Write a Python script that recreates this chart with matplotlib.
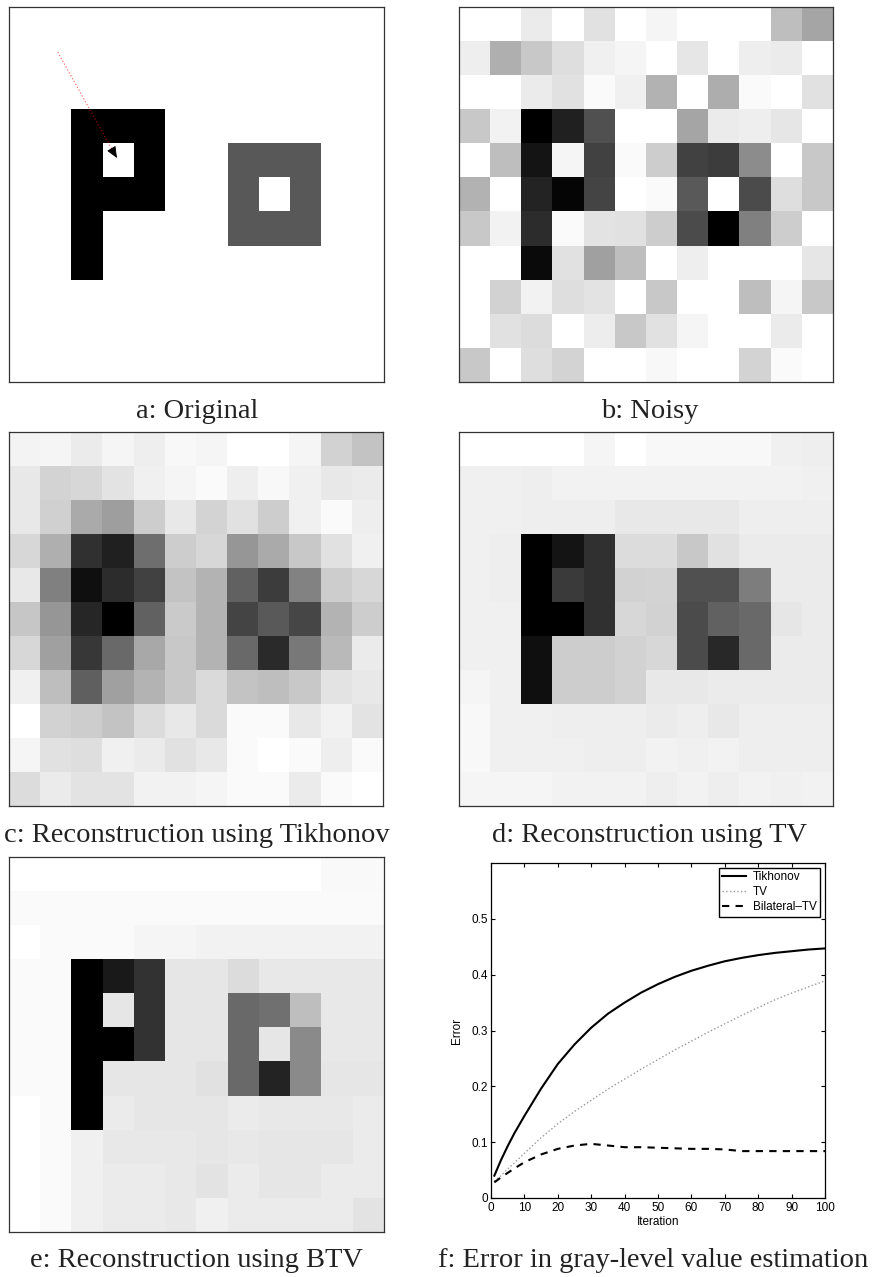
import numpy as np
import matplotlib
matplotlib.use('Agg')
import matplotlib.pyplot as plt

# gray-level images, 11 rows x 12 columns, values 0..255
original = [
    [255, 255, 255, 255, 255, 255, 255, 255, 255, 255, 255, 255],
    [255, 255, 255, 255, 255, 255, 255, 255, 255, 255, 255, 255],
    [255, 255, 255, 255, 255, 255, 255, 255, 255, 255, 255, 255],
    [255, 255, 0, 0, 0, 255, 255, 255, 255, 255, 255, 255],
    [255, 255, 0, 255, 0, 255, 255, 88, 88, 88, 255, 255],
    [255, 255, 0, 0, 0, 255, 255, 88, 255, 88, 255, 255],
    [255, 255, 0, 255, 255, 255, 255, 88, 88, 88, 255, 255],
    [255, 255, 0, 255, 255, 255, 255, 255, 255, 255, 255, 255],
    [255, 255, 255, 255, 255, 255, 255, 255, 255, 255, 255, 255],
    [255, 255, 255, 255, 255, 255, 255, 255, 255, 255, 255, 255],
    [255, 255, 255, 255, 255, 255, 255, 255, 255, 255, 255, 255],
]

noisy = [
    [255, 255, 235, 255, 225, 255, 245, 255, 255, 255, 190, 165],
    [238, 175, 200, 222, 240, 245, 255, 230, 255, 238, 235, 255],
    [255, 255, 235, 225, 250, 240, 178, 255, 173, 250, 255, 225],
    [200, 242, 0, 32, 80, 255, 255, 165, 235, 238, 230, 255],
    [255, 190, 20, 245, 65, 250, 205, 65, 60, 140, 255, 200],
    [178, 255, 35, 5, 68, 255, 250, 90, 255, 75, 222, 200],
    [200, 242, 45, 250, 228, 225, 205, 75, 0, 128, 205, 255],
    [255, 255, 10, 225, 160, 190, 255, 238, 255, 255, 255, 230],
    [255, 210, 242, 222, 228, 255, 200, 255, 255, 190, 245, 200],
    [255, 225, 220, 255, 237, 200, 225, 245, 255, 255, 235, 255],
    [200, 255, 222, 212, 255, 255, 248, 255, 255, 212, 250, 255],
]

tikhonov_img = [
    [243, 245, 235, 245, 238, 248, 245, 255, 255, 245, 210, 195],
    [232, 212, 215, 228, 240, 245, 250, 238, 248, 240, 232, 235],
    [232, 208, 170, 158, 205, 232, 212, 225, 205, 240, 250, 238],
    [215, 175, 48, 32, 110, 205, 215, 150, 170, 200, 225, 240],
    [232, 128, 15, 45, 65, 195, 180, 98, 60, 130, 205, 215],
    [198, 150, 38, 0, 98, 202, 180, 68, 90, 70, 180, 205],
    [215, 160, 55, 105, 168, 200, 180, 105, 42, 120, 185, 235],
    [240, 190, 95, 160, 180, 200, 218, 195, 190, 200, 228, 232],
    [255, 210, 205, 195, 220, 232, 218, 250, 250, 232, 242, 228],
    [245, 225, 222, 240, 235, 225, 232, 250, 255, 250, 238, 250],
    [220, 235, 228, 228, 242, 242, 245, 250, 250, 235, 250, 255],
]

tv_img = [
    [255, 255, 255, 255, 245, 255, 248, 248, 248, 248, 240, 238],
    [240, 240, 238, 242, 242, 242, 242, 242, 242, 242, 242, 240],
    [240, 240, 238, 238, 238, 232, 232, 232, 232, 238, 238, 238],
    [240, 238, 0, 20, 48, 220, 220, 200, 225, 235, 235, 235],
    [240, 238, 0, 58, 48, 210, 212, 80, 80, 125, 235, 235],
    [240, 240, 0, 0, 48, 215, 210, 75, 98, 105, 230, 235],
    [240, 240, 15, 205, 205, 210, 215, 75, 40, 105, 235, 235],
    [245, 240, 15, 205, 205, 210, 232, 232, 235, 235, 235, 235],
    [248, 240, 240, 238, 238, 238, 235, 238, 232, 238, 238, 238],
    [248, 240, 240, 240, 238, 238, 242, 240, 242, 238, 238, 238],
    [245, 245, 245, 242, 242, 242, 238, 242, 238, 242, 240, 242],
]

btv_img = [
    [255, 255, 255, 255, 255, 255, 255, 255, 255, 255, 249, 249],
    [250, 250, 250, 250, 250, 250, 250, 250, 250, 250, 250, 250],
    [255, 250, 250, 250, 245, 245, 242, 242, 242, 242, 242, 242],
    [250, 250, 0, 25, 50, 230, 230, 220, 232, 232, 232, 232],
    [250, 250, 0, 230, 50, 230, 230, 105, 112, 190, 232, 232],
    [250, 250, 0, 0, 50, 230, 230, 105, 230, 138, 232, 232],
    [250, 250, 0, 230, 230, 230, 225, 105, 35, 138, 230, 230],
    [255, 250, 0, 235, 230, 230, 230, 235, 232, 232, 232, 235],
    [255, 250, 240, 232, 232, 232, 230, 232, 230, 230, 230, 235],
    [255, 250, 240, 235, 235, 232, 228, 235, 230, 230, 235, 235],
    [255, 250, 240, 235, 235, 232, 240, 235, 235, 235, 235, 228],
]

# error curves
iterations = [1, 3, 5, 7, 10, 15, 20, 25, 30, 35, 40, 45, 50,
              55, 60, 65, 70, 75, 80, 85, 90, 95, 100]
err_tikhonov = [0.040, 0.068, 0.093, 0.116, 0.147, 0.196, 0.240, 0.275, 0.305,
                0.330, 0.350, 0.368, 0.383, 0.396, 0.407, 0.416, 0.424, 0.430,
                0.435, 0.439, 0.442, 0.445, 0.447]
err_tv = [0.030, 0.040, 0.052, 0.063, 0.080, 0.108, 0.133, 0.155, 0.175,
          0.195, 0.213, 0.231, 0.248, 0.265, 0.281, 0.297, 0.312, 0.327,
          0.341, 0.355, 0.367, 0.378, 0.389]
err_btv = [0.028, 0.037, 0.045, 0.053, 0.064, 0.078, 0.088, 0.094, 0.097,
           0.094, 0.091, 0.091, 0.090, 0.089, 0.088, 0.088, 0.087, 0.084,
           0.084, 0.084, 0.084, 0.084, 0.084]

captions = ['a: Original', 'b: Noisy', 'c: Reconstruction using Tikhonov',
            'd: Reconstruction using TV', 'e: Reconstruction using BTV',
            'f: Error in gray-level value estimation']

W, H = 876, 1277
fig = plt.figure(figsize=(W / 100, H / 100), dpi=100)


def px_axes(x0, y0, x1, y1):
    return fig.add_axes([x0 / W, 1 - y1 / H, (x1 - x0) / W, (y1 - y0) / H])


def show_img(ax, img):
    ax.imshow(np.array(img), cmap='gray', vmin=0, vmax=255,
              interpolation='nearest', aspect='auto')
    ax.set_xticks([])
    ax.set_yticks([])
    for s in ax.spines.values():
        s.set_color('#333333')
        s.set_linewidth(0.9)


ax_a = px_axes(9, 7, 384, 382)
ax_b = px_axes(459, 7, 833, 382)
ax_c = px_axes(9, 432, 383, 806)
ax_d = px_axes(459, 432, 833, 806)
ax_e = px_axes(9, 857, 384, 1232)
ax_f = px_axes(491, 863, 825, 1198)

for ax, img in [(ax_a, original), (ax_b, noisy), (ax_c, tikhonov_img),
                (ax_d, tv_img), (ax_e, btv_img)]:
    show_img(ax, img)

# pointer drawn on the original image
arrow_start = (1.06, 0.82)
arrow_mid = (2.82, 3.72)
arrow_tip = (3.0, 4.0)
ax_a.plot([arrow_start[0], arrow_mid[0]], [arrow_start[1], arrow_mid[1]],
          color='red', alpha=0.55, ls=':', lw=0.9)
ax_a.annotate('', xy=arrow_tip, xytext=arrow_mid,
              arrowprops=dict(arrowstyle='-|>,head_length=0.7,head_width=0.3',
                              color='black', lw=0.6))

# error plot, MATLAB-like styling
sans = ['Liberation Sans Narrow', 'Liberation Sans', 'DejaVu Sans']
ax_f.plot(iterations, err_tikhonov, color='black', lw=1.5, label='Tikhonov')
ax_f.plot(iterations, err_tv, color='#999999', lw=1.0, ls=':', label='TV')
ax_f.plot(iterations, err_btv, color='black', lw=1.5, ls=(0, (3.5, 3)),
          label='Bilateral\u2013TV')
ax_f.set_xlim(0, 100)
ax_f.set_ylim(0, 0.6)
ax_f.set_xticks(range(0, 101, 10))
ax_f.set_yticks([0, 0.1, 0.2, 0.3, 0.4, 0.5])
ax_f.set_yticklabels(['0', '0.1', '0.2', '0.3', '0.4', '0.5'])
ax_f.tick_params(direction='in', top=True, right=True, length=3, width=0.8,
                 labelsize=8.5, pad=3)
ax_f.tick_params(axis='y', pad=2)
for lab in ax_f.get_xticklabels() + ax_f.get_yticklabels():
    lab.set_family(sans)
ax_f.set_xlabel('Iteration', family=sans, fontsize=8.5, labelpad=1)
ax_f.set_ylabel('Error', family=sans, fontsize=8.5)
ax_f.yaxis.set_label_coords(-0.085, 0.5)
for s in ax_f.spines.values():
    s.set_linewidth(0.9)
leg = ax_f.legend(loc='upper right', fancybox=False, framealpha=1,
                  edgecolor='black', prop={'family': sans, 'size': 8.5},
                  handlelength=2.0, borderpad=0.3, labelspacing=0.25,
                  borderaxespad=0.4, handletextpad=0.6)
leg.get_frame().set_linewidth(1.0)

# captions under each panel
serif = ['Liberation Serif', 'DejaVu Serif']
cap_pos = [(197, 418), (650, 418), (197, 842), (650, 842), (197, 1267), (653, 1267)]
for text, (cx, cy) in zip(captions, cap_pos):
    fig.text(cx / W, 1 - cy / H, text, ha='center', va='baseline',
             family=serif, fontsize=20.5, color='#222222')

fig.savefig('out.png', dpi=100)
